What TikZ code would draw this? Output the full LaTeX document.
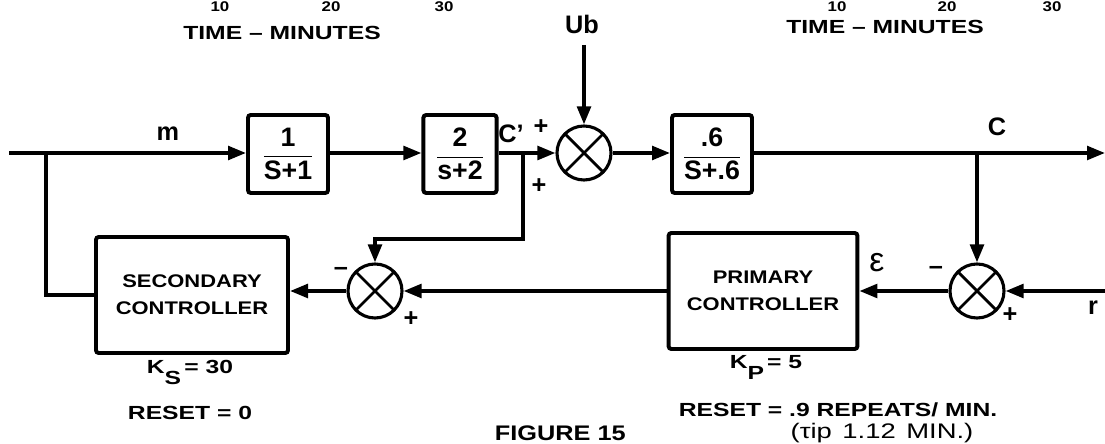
\documentclass[tikz,border=0pt]{standalone}
\usepackage{amsmath}
\usepackage{fontspec}
\setmainfont{Liberation Sans}
\newfontfamily\lettering[FakeStretch=1.2]{Liberation Sans}
\newfontfamily\widelettering[FakeStretch=1.3]{Liberation Sans}
\usetikzlibrary{arrows.meta,positioning}
\tikzset{
  wire/.style={black,line width=2.6pt},
  flow/.style={wire,-{Triangle[length=4.5mm,width=3.4mm]}},
  block/.style={draw=black,line width=2.8pt,rounded corners=2pt,inner sep=0pt,align=center},
  tfblock/.style={block,minimum width=2cm,minimum height=1.95cm,font=\fontsize{19}{21}\bfseries\selectfont},
  ctlblock/.style={block,minimum width=4.8cm,minimum height=2.9cm,font=\lettering\bfseries\fontsize{13}{19}\selectfont},
  sumjunc/.style={circle,draw=black,line width=2.2pt,minimum size=13.5mm,inner sep=0pt,
    path picture={\draw[line width=2pt]
      (path picture bounding box.south west) -- (path picture bounding box.north east)
      (path picture bounding box.north west) -- (path picture bounding box.south east);}},
  sgn/.style={font=\fontsize{18}{18}\bfseries\selectfont},
  lab/.style={font=\fontsize{18}{18}\bfseries\selectfont},
  note/.style={font=\widelettering\bfseries\fontsize{13.5}{15}\selectfont},
  tick/.style={font=\lettering\bfseries\fontsize{10}{11}\selectfont},
}

\begin{document}
\begin{tikzpicture}[x=0.025cm,y=-0.025cm]
  \useasboundingbox (0,0) rectangle (1105,444);
  \clip (0,0) rectangle (1105,444);

  % plot remnants above and the caption below
  \node[tick] (t10a) at (220,7) {10};
  \node[tick] (t20a) at (331,7) {20};
  \node[tick] (t30a) at (444,7) {30};
  \node[tick] (t10b) at (837,7) {10};
  \node[tick] (t20b) at (947,7) {20};
  \node[tick] (t30b) at (1052,7) {30};
  \node[note] (timel) at (282,33) {TIME – MINUTES};
  \node[note] (timer) at (885,27) {TIME – MINUTES};
  \node[note,font=\lettering\bfseries\fontsize{15}{15}\selectfont,anchor=west] (fig) at (490,433) {FIGURE 15};

  % forward path
  \node[tfblock] (lag1) at (288,154) {$\dfrac{\textbf{1}}{\textbf{S+1}}$};
  \node[tfblock,minimum width=1.83cm] (lag2) at (460,154) {$\dfrac{\textbf{2}}{\textbf{s+2}}$};
  \node[sumjunc] (sumc) at (584,153) {};
  \node[tfblock] (proc) at (712,154) {$\dfrac{\textbf{.6}}{\textbf{S+.6}}$};

  % feedback path
  \node[ctlblock] (secctl) at (192,295) {SECONDARY\\CONTROLLER};
  \node[sumjunc] (sums) at (375,291) {};
  \node[ctlblock,minimum width=4.72cm] (prictl) at (763,291) {PRIMARY\\CONTROLLER};
  \node[sumjunc] (sump) at (977,291) {};

  \coordinate (min) at (9,153);
  \coordinate (mjoin) at (46,153);
  \coordinate (cbr) at (523,153);
  \coordinate (cbend) at (523,239);
  \coordinate (ubin) at (584,45);
  \coordinate (out) at (1105,153);
  \coordinate (obr) at (977,153);
  \coordinate (rin) at (1105,291);

  \draw[flow] (min) -- (lag1.west |- min);
  \draw[flow] (lag1.east |- min) -- (lag2.west |- min);
  \draw[flow] (lag2.east |- min) -- (sumc);
  \draw[flow] (cbr) -- (cbend) -| (sums);
  \draw[flow] (ubin) -- (sumc);
  \draw[flow] (sumc) -- (proc.west |- sumc);
  \draw[flow] (proc.east |- sumc) -- (out);
  \draw[flow] (obr) -- (sump);
  \draw[flow] (rin) -- (sump);
  \draw[flow] (sump) -- (prictl.east |- sump);
  \draw[flow] (prictl.west |- sums) -- (sums);
  \draw[flow] (sums) -- (secctl.east |- sums);
  \draw[wire] (secctl.west) -| (mjoin);

  % signal names and signs
  \node[lab] (lm) at (168,134) {m};
  \node[lab] (lcp) at (511,134) {C'};
  \node[lab] (lc) at (997,127) {C};
  \node[lab] (lr) at (1093,308) {r};
  \node[lab] (lub) at (582,24) {Ub};
  \node[lab,font=\fontsize{24}{24}\selectfont] (leps) at (877,263) {ε};
  \node[sgn] (p1) at (541,127) {+};
  \node[sgn] (p2) at (539,186) {+};
  \node[sgn] (m1) at (341,271) {–};
  \node[sgn] (p3) at (411,319) {+};
  \node[sgn] (m2) at (936,270) {–};
  \node[sgn] (p4) at (1010,315) {+};

  % controller settings
  \node[note] (ks) at (190,372) {K\raisebox{-1.1ex}{S}\,= 30};
  \node[note] (rs) at (190,413) {RESET = 0};
  \node[note] (kp) at (766,367) {K\raisebox{-1.1ex}{P}\,= 5};
  \node[note] (rp) at (838,410) {RESET = .9 REPEATS/ MIN.};
  \node[note,font=\widelettering\fontsize{15}{16}\selectfont] (tip) at (882,433) {(τip\enspace 1.12\enspace MIN.)};
\end{tikzpicture}
\end{document}
